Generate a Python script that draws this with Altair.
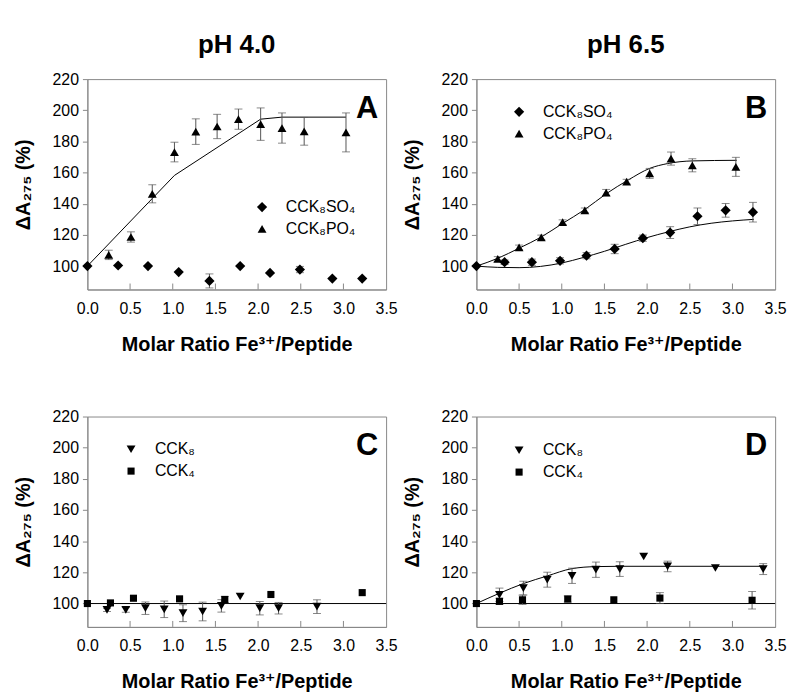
import altair as alt
import pandas as pd

FONT = "Liberation Sans, Arial, DejaVu Sans"

# ---------------- data ----------------
# Panel A (pH 4.0)
a_so4_x = [0, 0.36, 0.71, 1.07, 1.43, 1.79, 2.14, 2.49, 2.87, 3.22]
a_so4_y = [100, 100.4, 100, 96.2, 90.5, 100, 95.6, 97.8, 92, 92]
a_so4_e = [0, 0, 0, 0, 4.5, 0, 0, 2, 0, 0]
a_po4_x = [0.25, 0.51, 0.76, 1.02, 1.27, 1.52, 1.77, 2.03, 2.28, 2.54, 3.03]
a_po4_y = [107.2, 118.7, 146.4, 173.2, 186.3, 189.6, 194.3, 191.1, 188.6, 186.5, 185.8]
a_po4_e = [3, 3.3, 5.8, 6.3, 8.2, 7.8, 6.5, 10.4, 9.7, 8.9, 12.5]
a_fit_x = [0, 1.02, 2.03, 2.28, 3.03]
a_fit_y = [100, 158.2, 194.3, 195.6, 195.6]

# Panel B (pH 6.5)
b_so4_x = [0, 0.33, 0.65, 0.98, 1.29, 1.62, 1.95, 2.27, 2.59, 2.92, 3.24]
b_so4_y = [100, 102.5, 102.5, 103.4, 106.7, 111, 117.9, 121.5, 132, 135.8, 134.6]
b_so4_e = [0, 1.5, 2, 2, 2, 3, 2, 3.8, 5.3, 4.4, 6.3]
b_po4_x = [0.25, 0.5, 0.76, 1.01, 1.27, 1.52, 1.76, 2.03, 2.28, 2.53, 3.04]
b_po4_y = [104.6, 112, 118.4, 128.2, 135.8, 147.2, 154.2, 159.5, 169, 164.7, 163.7]
b_po4_e = [1.5, 1.5, 1.5, 1.5, 1.5, 2, 1.5, 3.2, 4.2, 4.2, 6.1]
b_fit_po4_x = [0, 0.25, 0.5, 0.76, 1.01, 1.27, 1.52, 1.78, 2.03, 2.24, 2.53, 3.05]
b_fit_po4_y = [100, 105, 111.5, 118.7, 127.4, 136.3, 146.4, 155.3, 162.7, 165.8, 167.5, 167.9]
b_fit_so4_x = [0, 0.25, 0.5, 0.75, 1.0, 1.25, 1.5, 1.75, 2.0, 2.25, 2.5, 2.75, 3.0, 3.25]
b_fit_so4_y = [100, 99.2, 99, 99.8, 102, 105.5, 109.5, 114, 118.3, 122, 125.2, 127.5, 129, 130]

# Panel C (pH 4.0)
c_cck8_x = [0.23, 0.45, 0.68, 0.90, 1.12, 1.35, 1.57, 1.79, 2.02, 2.24, 2.69]
c_cck8_y = [95.9, 95.9, 97, 96.3, 93.8, 94.9, 98.5, 104.5, 97, 97, 98]
c_cck8_e = [1, 1.5, 4, 5.3, 5.4, 6, 4, 0, 4.3, 3.7, 4.4]
c_cck4_x = [0, 0.27, 0.54, 1.08, 1.61, 2.15, 3.22]
c_cck4_y = [100, 100.4, 103.4, 103, 102.6, 105.8, 107]
c_cck4_e = [0, 0, 0, 0, 2, 0, 0]
c_fit_x = [0, 3.5]
c_fit_y = [100, 100]

# Panel D (pH 6.5)
d_cck8_x = [0.27, 0.55, 0.83, 1.12, 1.40, 1.68, 1.96, 2.24, 2.80, 3.36]
d_cck8_y = [105.6, 109.9, 115.3, 117.8, 121.7, 122.1, 130.2, 123.8, 122.8, 122.1]
d_cck8_e = [4.3, 4.4, 4.8, 4.9, 4.9, 4.7, 0, 3.4, 0, 3.5]
d_cck4_x = [0, 0.27, 0.54, 1.07, 1.61, 2.15, 3.23]
d_cck4_y = [100, 101.4, 102.4, 102.9, 102.4, 103.5, 102.1]
d_cck4_e = [0, 2, 3, 2, 0, 3.5, 5.6]
d_fit8_x = [0, 0.27, 0.55, 0.83, 1.12, 1.40, 1.68, 3.36]
d_fit8_y = [100, 106.6, 112.8, 117.7, 122.4, 123.7, 123.9, 123.9]
d_fit4_x = [0, 3.5]
d_fit4_y = [100, 100]

x_ticks = [0, 0.5, 1.0, 1.5, 2.0, 2.5, 3.0, 3.5]
y_ticks = [100, 120, 140, 160, 180, 200, 220]

S_SO4 = "CCK\u2088SO\u2084"
S_PO4 = "CCK\u2088PO\u2084"
S_8 = "CCK\u2088"
S_4 = "CCK\u2084"

W, H = 301, 212
X_TITLE = "Molar Ratio Fe\u00b3\u207a/Peptide"
Y_TITLE = "\u0394A\u2082\u2087\u2085 (%)"
SQUARE = "M-0.8,-0.8L0.8,-0.8L0.8,0.8L-0.8,0.8Z"
DIAMOND = "M-1.15,0L0,-1.15L1.15,0L0,1.15Z"


def pts(series):
    rows = []
    for name, xs, ys, es in series:
        for x, y, e in zip(xs, ys, es):
            rows.append({"x": x, "y": y, "e": e, "s": name})
    return pd.DataFrame(rows)


def fits(lines):
    rows = []
    for i, (xs, ys) in enumerate(lines):
        for j, (x, y) in enumerate(zip(xs, ys)):
            rows.append({"x": x, "y": y, "f": i, "o": j})
    return pd.DataFrame(rows)


def panel(series, lines, shapes, letter, leg_x, leg_y, interp, title=None):
    names = [s[0] for s in series]
    xs = alt.Scale(domain=[0, 3.5], nice=False, zero=False)
    ys = alt.Scale(domain=[85, 220], nice=False, zero=False)
    xaxis = alt.Axis(values=x_ticks, format=".1f", title=X_TITLE, tickSize=0, labelPadding=11,
                     titlePadding=18, labelOverlap=False, labelFlush=False)
    yaxis = alt.Axis(values=y_ticks, title=Y_TITLE, tickSize=5, labelPadding=4, titlePadding=19,
                     labelOverlap=False, labelFlush=False, tickCount=7)
    pdf = pts(series)
    base = alt.Chart(pdf)
    line = alt.Chart(fits(lines)).mark_line(color="black", strokeWidth=1, interpolate=interp).encode(
        x=alt.X("x:Q", scale=xs, axis=xaxis), y=alt.Y("y:Q", scale=ys, axis=yaxis),
        detail="f:N", order="o:Q")
    err = base.transform_filter("datum.e > 0").transform_calculate(
        lo="datum.y - datum.e", hi="datum.y + datum.e")
    rule = err.mark_rule(color="#555555", strokeWidth=1).encode(
        x=alt.X("x:Q", axis=xaxis), y=alt.Y("lo:Q", axis=yaxis), y2="hi:Q")
    cap1 = err.mark_tick(orient="horizontal", size=8, thickness=1, color="#555555").encode(
        x=alt.X("x:Q", axis=xaxis), y=alt.Y("lo:Q", axis=yaxis))
    cap2 = err.mark_tick(orient="horizontal", size=8, thickness=1, color="#555555").encode(
        x=alt.X("x:Q", axis=xaxis), y=alt.Y("hi:Q", axis=yaxis))
    tk = alt.Chart(pd.DataFrame({"t": x_ticks[1:-1]})).mark_rule(color="#888888", strokeWidth=1).encode(
        x=alt.X("t:Q", scale=xs, axis=xaxis), y=alt.value(H), y2=alt.value(H - 6))
    points = base.mark_point(filled=True, color="black", opacity=1, size=80).encode(
        x=alt.X("x:Q", axis=xaxis), y=alt.Y("y:Q", axis=yaxis),
        shape=alt.Shape("s:N", scale=alt.Scale(domain=names, range=shapes),
                        legend=alt.Legend(title=None, orient="none", legendX=leg_x, legendY=leg_y,
                                          symbolSize=80, symbolFillColor="black", symbolStrokeColor="black",
                                          labelFont=FONT, labelFontSize=16, labelOffset=16,
                                          rowPadding=6, padding=0, symbolStrokeWidth=0)),
    )
    txt = alt.Chart(pd.DataFrame({"t": [letter]})).mark_text(
        align="right", baseline="alphabetic", fontSize=31, fontWeight="bold", font=FONT, color="black"
    ).encode(text="t:N", x=alt.value(W - 8), y=alt.value(39))
    layers = [line, rule, cap1, cap2, tk, points, txt]
    if title:
        layers.append(alt.Chart(pd.DataFrame({"t": [title]})).mark_text(
            align="center", baseline="alphabetic", fontSize=26, fontWeight="bold", font=FONT, color="black"
        ).encode(text="t:N", x=alt.value(W / 2), y=alt.value(-26)))
    return alt.layer(*layers).properties(width=W, height=H)


A = panel([(S_SO4, a_so4_x, a_so4_y, a_so4_e), (S_PO4, a_po4_x, a_po4_y, a_po4_e)],
          [(a_fit_x, a_fit_y)], [DIAMOND, "triangle-up"], "A", 168, 121, "linear", "pH 4.0")
B = panel([(S_SO4, b_so4_x, b_so4_y, b_so4_e), (S_PO4, b_po4_x, b_po4_y, b_po4_e)],
          [(b_fit_po4_x, b_fit_po4_y), (b_fit_so4_x, b_fit_so4_y)], [DIAMOND, "triangle-up"],
          "B", 35, 25, "monotone", "pH 6.5")
C = panel([(S_8, c_cck8_x, c_cck8_y, c_cck8_e), (S_4, c_cck4_x, c_cck4_y, c_cck4_e)],
          [(c_fit_x, c_fit_y)], ["triangle-down", SQUARE], "C", 36, 25, "linear")
D = panel([(S_8, d_cck8_x, d_cck8_y, d_cck8_e), (S_4, d_cck4_x, d_cck4_y, d_cck4_e)],
          [(d_fit8_x, d_fit8_y), (d_fit4_x, d_fit4_y)], ["triangle-down", SQUARE],
          "D", 35, 26, "monotone")

chart = alt.concat(A, B, C, D, columns=2, spacing={"row": 128, "column": 91}, bounds="flush").resolve_scale(
    shape="independent", x="independent", y="independent"
).resolve_legend(shape="independent").properties(
    padding={"left": 4, "top": 21, "right": 5, "bottom": 5}
).configure_view(stroke="#888888", strokeWidth=1).configure_axis(
    domainColor="#888888", tickColor="#888888", labelFont=FONT, labelFontSize=16, labelColor="black",
    titleFont=FONT, titleFontSize=20, titleFontWeight="bold", titleColor="black", grid=False,
    labelFlush=False, labelOverlap=False
)

chart.save("out.html", embed_options={"renderer": "svg", "actions": False})
